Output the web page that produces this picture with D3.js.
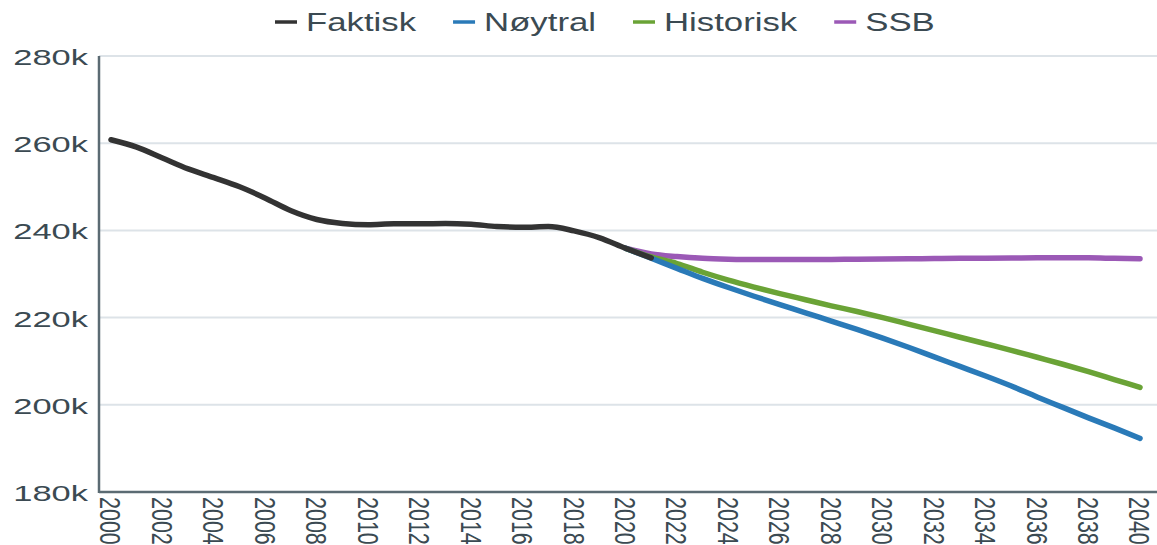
<!DOCTYPE html>
<html><head><meta charset="utf-8">
<script src="https://cdn.jsdelivr.net/npm/d3@7"></script>
<style>
html,body{margin:0;padding:0;background:#fff;}
svg{display:block;font-family:"Liberation Sans",Arial,sans-serif;}
</style></head>
<body><svg id="c" width="1157" height="545"></svg>
<script>
const faktiskYears = d3.range(2000, 2022);
const faktisk = [260.8,259.1,256.6,254.1,252.1,250.0,247.4,244.5,242.5,241.6,241.3,241.5,241.5,241.6,241.4,240.9,240.7,240.9,239.9,238.3,235.9,233.7];
const projYears = d3.range(2020, 2041);
const noytral = [235.9,233.6,231.3,229.0,226.9,224.9,223.0,221.1,219.2,217.3,215.3,213.2,211.0,208.8,206.6,204.3,201.8,199.4,197.0,194.7,192.3];
const historisk = [235.9,233.9,232.4,230.4,228.6,227.0,225.5,224.1,222.7,221.4,220.0,218.5,217.0,215.5,214.0,212.5,210.9,209.3,207.6,205.8,204.0];
const ssb = [235.9,234.6,234.0,233.6,233.4,233.3,233.3,233.3,233.35,233.4,233.45,233.5,233.55,233.6,233.62,233.65,233.7,233.7,233.7,233.6,233.5];
const yTicks = [180,200,220,240,260,280];
const xTicks = d3.range(2000, 2041, 2);
const seriesNames = ["Faktisk","Nøytral","Historisk","SSB"];
const seriesColors = ["#333333","#2a7ab8","#6aa336","#9b59b6"];

const svg = d3.select("#c");
const textColor = "#3b4a52";
const x = d3.scaleLinear().domain([2000,2040]).range([111,1140]);
const y = d3.scaleLinear().domain([180,280]).range([492,56]);
const plotLeft = 99, plotRight = 1157;

// gridlines
svg.append("g").selectAll("line").data(yTicks.filter(d=>d>180)).join("line")
  .attr("x1", plotLeft).attr("x2", plotRight)
  .attr("y1", d=>y(d)).attr("y2", d=>y(d))
  .attr("stroke", "#dde3e8").attr("stroke-width", 2);

// y labels
svg.append("g").selectAll("text").data(yTicks).join("text")
  .attr("transform", d=>`translate(88,${y(d)+9}) scale(1.5,1)`)
  .attr("text-anchor","end").attr("font-size",23).attr("fill",textColor)
  .text(d=>d+"k");

// x labels
svg.append("g").selectAll("text").data(xTicks).join("text")
  .attr("transform", d=>`translate(${x(d)},497) scale(1.4,1) rotate(90)`)
  .attr("dy","0.35em").attr("font-size",21.5).attr("fill",textColor)
  .text(d=>d);

// axis lines
svg.append("line").attr("x1",plotLeft).attr("x2",plotLeft).attr("y1",56).attr("y2",493)
  .attr("stroke","#5b6b73").attr("stroke-width",2.5);
svg.append("line").attr("x1",plotLeft).attr("x2",plotRight).attr("y1",492).attr("y2",492)
  .attr("stroke","#5b6b73").attr("stroke-width",2.5);

const line = d3.line().x(d=>x(d[0])).y(d=>y(d[1])).curve(d3.curveMonotoneX);
const series = [
  {name:"SSB", years:projYears, vals:ssb, color:seriesColors[3]},
  {name:"Historisk", years:projYears, vals:historisk, color:seriesColors[2]},
  {name:"Nøytral", years:projYears, vals:noytral, color:seriesColors[1]},
  {name:"Faktisk", years:faktiskYears, vals:faktisk, color:seriesColors[0]},
];
svg.append("g").selectAll("path").data(series).join("path")
  .attr("d", s=>line(s.years.map((yr,i)=>[yr,s.vals[i]])))
  .attr("fill","none").attr("stroke",s=>s.color).attr("stroke-width",5.5)
  .attr("stroke-linecap","round").attr("stroke-linejoin","round");

// legend
const lg = svg.append("g");
let lx = 275;
seriesNames.forEach((n,i)=>{
  lg.append("line").attr("x1",lx).attr("x2",lx+22).attr("y1",22).attr("y2",22)
    .attr("stroke",seriesColors[i]).attr("stroke-width",3.5);
  const t = lg.append("text").attr("transform",`translate(${lx+31},31) scale(1.39,1)`)
    .attr("font-size",25).attr("fill",textColor).text(n);
  const w = t.node().getComputedTextLength()*1.39;
  lx = lx + 31 + w + 37;
});
</script></body></html>
